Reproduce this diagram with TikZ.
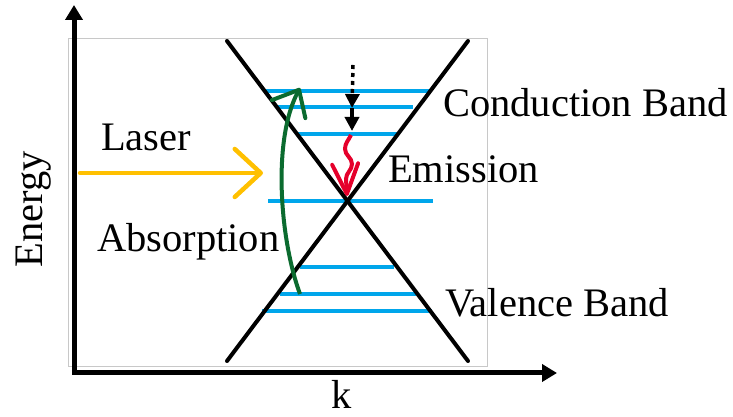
\documentclass[tikz,border=0pt]{standalone}
\usepackage{fontspec}
\setmainfont{Liberation Serif}
\usetikzlibrary{arrows.meta}
\definecolor{band}{HTML}{00A6EB}
\definecolor{laser}{HTML}{FFC000}
\definecolor{absorb}{HTML}{0B6B2F}
\definecolor{emit}{HTML}{E5002B}
\definecolor{frame}{HTML}{C8C8C8}
\tikzset{bandtext/.style={font=\fontsize{40.5}{48}\selectfont,inner sep=0pt,anchor=base west},
  level/.style={draw=band,line width=4.5pt},
  cone/.style={draw=black,line width=4pt,line cap=round},
  axis/.style={draw=black,line width=5pt,{Triangle[length=15pt,width=17pt]}-{Triangle[length=15pt,width=17pt]}},
  laserarrow/.style={draw=laser,line width=4.5pt,line cap=round,-{Straight Barb[length=26pt,width=48pt,round]}},
  absarrow/.style={draw=absorb,line width=4pt,-{Straight Barb[length=22pt,width=38pt,round]}},
  emitarrow/.style={draw=emit,line width=4pt,-{Straight Barb[length=30pt,width=26pt,round]}},
  dropline/.style={draw=black,line width=3.5pt,dash pattern=on 4pt off 4pt,-{Triangle[length=14pt,width=14pt]}},
  dropstep/.style={draw=black,line width=3.5pt,-{Triangle[length=14pt,width=14pt]}}}

\begin{document}
\begin{tikzpicture}[x=1pt,y=1pt]
\useasboundingbox (0,0) rectangle (733,417);
\draw[frame,line width=0.8pt] (68,51) rectangle (487,379);
% energy levels
\draw[level] (265,326) -- (430,326);
\draw[level] (276,310) -- (413,310);
\draw[level] (297,283) -- (398,283);
\draw[level] (268,216) -- (433,216);
\draw[level] (300,150) -- (394,150);
\draw[level] (280,123) -- (416,123);
\draw[level] (262,106) -- (432,106);
% dispersion cone
\coordinate (ul) at (227,376);\coordinate (ur) at (468,376);
\coordinate (ll) at (227,56);\coordinate (lr) at (468,56);
\draw[cone] (ul) -- (lr);\draw[cone] (ur) -- (ll);
% axes
\coordinate (etop) at (74,412);\coordinate (origin) at (74,44);\coordinate (kend) at (557,44);
\draw[axis] (etop) -- (origin) -- (kend);
% transitions
\coordinate (lasstart) at (80,244);\coordinate (lastip) at (263,244);
\draw[laserarrow] (lasstart) -- (lastip);
\coordinate (absfoot) at (300,123);\coordinate (abstip) at (300,329);
\draw[absarrow] (absfoot) .. controls (280,177) and (272,277) .. (abstip);
\coordinate (dtop) at (353,352);\coordinate (dmid) at (352,309);\coordinate (dtip) at (352,286);
\draw[dropline] (dtop) -- (dmid);\draw[dropstep] (dmid) -- (dtip);
\coordinate (emtop) at (351,282);\coordinate (emtip) at (347,221);
\draw[emitarrow] (emtop) to[out=245,in=90] (345,268) to[out=-90,in=90] (352,253)
  to[out=-90,in=90] (346,238) -- (emtip);
% labels
\node[bandtext] (cb) at (443,300) {Conduction Band};
\node[bandtext] (em) at (388,234) {Emission};
\node[bandtext] (las) at (101,266) {Laser};
\node[bandtext] (abs) at (97,165) {Absorption};
\node[bandtext] (vb) at (445,100) {Valence Band};
\node[bandtext,rotate=90,anchor=base] (energy) at (42,208) {Energy};
\node[bandtext,anchor=base] (kk) at (342,8) {k};
\end{tikzpicture}
\end{document}
